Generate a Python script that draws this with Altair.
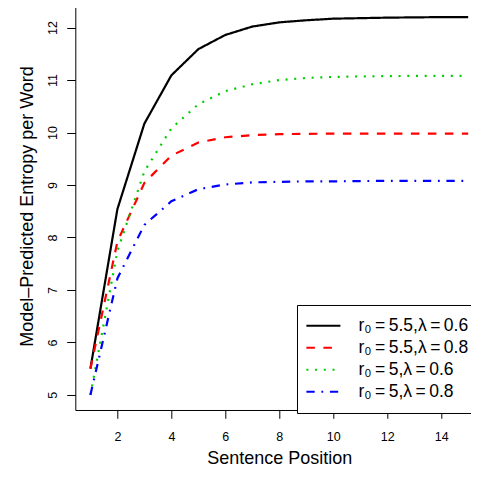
import altair as alt
import pandas as pd

# ---- data ----
positions = list(range(1, 16))
TS = "\u2009"  # thin space, as in R's plotmath relation spacing
series_labels = [f"r\u2080{TS}={TS}5.5,\u03bb{TS}={TS}0.6", f"r\u2080{TS}={TS}5.5,\u03bb{TS}={TS}0.8",
                 f"r\u2080{TS}={TS}5,\u03bb{TS}={TS}0.6", f"r\u2080{TS}={TS}5,\u03bb{TS}={TS}0.8"]
series_colors = ["#000000", "#FF0000", "#00CD00", "#0000FF"]
series_dashes = [[1, 0], [8.5, 8.5], [2, 6.7], [8.3, 6.7, 1.8, 6.7]]

black = [5.5, 8.54, 10.17, 11.09, 11.59, 11.86, 12.02, 12.10, 12.14, 12.17, 12.18, 12.19, 12.195, 12.2, 12.2]
red = [5.5, 7.92, 9.04, 9.56, 9.81, 9.91, 9.95, 9.97, 9.975, 9.98, 9.98, 9.98, 9.98, 9.98, 9.98]
green = [5.0, 7.74, 9.26, 10.08, 10.54, 10.79, 10.92, 11.0, 11.04, 11.06, 11.07, 11.075, 11.08, 11.08, 11.08]
blue = [5.0, 7.22, 8.24, 8.69, 8.92, 9.01, 9.05, 9.06, 9.07, 9.07, 9.075, 9.08, 9.08, 9.08, 9.08]

x_ticks = [2, 4, 6, 8, 10, 12, 14]
y_ticks = [5, 6, 7, 8, 9, 10, 11, 12]

rows = []
for lab, vals in zip(series_labels, [black, red, green, blue]):
    for p, v in zip(positions, vals):
        rows.append({"position": p, "entropy": v, "series": lab})
df = pd.DataFrame(rows)

# R-style 4% axis padding
def r_range(vals):
    lo, hi = min(vals), max(vals)
    pad = (hi - lo) * 0.04
    return [lo - pad, hi + pad]

x_dom = r_range(positions)
y_dom = r_range(black + red + green + blue)

FONT = "Liberation Sans"

leg = alt.Legend(
    title=None, orient="none", direction="vertical",
    legendX=221.7, legendY=303,
    symbolType="M-4,0H4", symbolSize=72.25, symbolStrokeWidth=2.2,
    symbolOffset=5.65, labelOffset=26.3,
    labelFontSize=17.5, labelFont=FONT, labelColor="black", labelLimit=400,
    padding=12, rowPadding=3, strokeColor="black", fillColor="white",
    cornerRadius=0,
)

chart = alt.Chart(df).mark_line(strokeWidth=2.2, strokeCap="butt").encode(
    x=alt.X("position:Q",
            scale=alt.Scale(domain=x_dom, nice=False, zero=False),
            axis=alt.Axis(values=x_ticks, title="Sentence Position",
                          titleFontSize=18, titleFont=FONT, titleFontWeight="normal",
                          titleColor="black", titleBaseline="middle", titleY=48.5,
                          labelFontSize=12.5, labelFont=FONT, labelColor="black",
                          labelPadding=12.3, labelFlush=False, labelOverlap=False,
                          tickSize=8.3, tickColor="black", tickWidth=1,
                          domain=False, grid=False)),
    y=alt.Y("entropy:Q",
            scale=alt.Scale(domain=y_dom, nice=False, zero=False),
            axis=alt.Axis(values=y_ticks, title="Model\u2013Predicted Entropy per Word",
                          titleFontSize=18, titleFont=FONT, titleFontWeight="normal",
                          titleColor="black", titleAngle=270, titleAlign="center",
                          titleBaseline="middle", titleX=-47.3, titleY=204,
                          labelFontSize=12.5, labelFont=FONT, labelColor="black",
                          labelAngle=270, labelAlign="center", labelBaseline="alphabetic",
                          labelPadding=10.5, labelFlush=False, labelOverlap=False,
                          tickSize=8.6, tickColor="black", tickWidth=1,
                          domain=False, grid=False)),
    color=alt.Color("series:N", scale=alt.Scale(domain=series_labels, range=series_colors),
                    legend=leg),
    strokeDash=alt.StrokeDash("series:N", scale=alt.Scale(domain=series_labels, range=series_dashes),
                              legend=leg),
).properties(
    width=408, height=408,
    autosize=alt.AutoSizeParams(type="none"),
    padding={"left": 67.3, "top": -6, "right": -12, "bottom": 55},
).configure(font=FONT).configure_view(stroke="black", strokeWidth=1)

chart.save("out.html", embed_options={"renderer": "svg", "actions": False})
